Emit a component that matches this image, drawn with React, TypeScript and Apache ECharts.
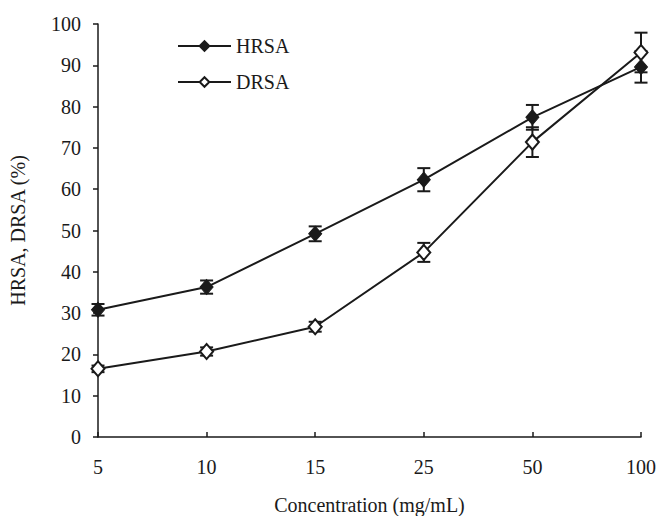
import React, { useEffect, useRef } from "react";
import * as echarts from "echarts";

const categories = ["5", "10", "15", "25", "50", "100"];
const hrsa = [30.8, 36.3, 49.2, 62.3, 77.4, 89.6];
const hrsaErr = [1.4, 1.6, 1.8, 2.8, 3.0, 3.8];
const drsa = [16.5, 20.7, 26.7, 44.7, 71.4, 93.1];
const drsaErr = [0.8, 1.0, 1.2, 2.3, 3.6, 4.8];
const yTicks = [0, 100, 10];

const FONT = "'Liberation Serif', 'DejaVu Serif', serif";

function errorSeries(vals: number[], errs: number[], name: string) {
  return {
    type: "custom",
    name: name + "-err",
    z: 1,
    silent: true,
    data: vals.map((v, i) => [i, v - errs[i], v + errs[i]]),
    renderItem: (params: any, api: any) => {
      const x = api.value(0);
      const lo = api.coord([x, api.value(1)]);
      const hi = api.coord([x, api.value(2)]);
      const w = 6.5;
      const st = { stroke: "#1a1a1a", lineWidth: 2 };
      return {
        type: "group",
        children: [
          { type: "line", shape: { x1: lo[0], y1: lo[1], x2: hi[0], y2: hi[1] }, style: st },
          { type: "line", shape: { x1: lo[0] - w, y1: lo[1], x2: lo[0] + w, y2: lo[1] }, style: st },
          { type: "line", shape: { x1: hi[0] - w, y1: hi[1], x2: hi[0] + w, y2: hi[1] }, style: st },
        ],
      };
    },
  };
}

export default function App() {
  const ref = useRef<HTMLDivElement>(null);
  useEffect(() => {
    const chart = echarts.init(ref.current!, null, { renderer: "svg" });
    chart.setOption({
      animation: false,
      backgroundColor: "#fff",
      textStyle: { fontFamily: FONT },
      grid: { left: 98, right: 16, top: 24, bottom: 79, outerBoundsMode: "none", containLabel: false },
      legend: {
        left: 172,
        top: 31,
        orient: "vertical",
        itemWidth: 53,
        itemHeight: 12,
        itemGap: 16,
        data: ["HRSA", "DRSA"],
        textStyle: { fontFamily: FONT, fontSize: 20, color: "#1a1a1a", lineHeight: 20 },
      },
      xAxis: {
        type: "category",
        data: categories,
        boundaryGap: false,
        name: "Concentration (mg/mL)",
        nameLocation: "middle",
        nameGap: 58,
        nameTextStyle: { fontFamily: FONT, fontSize: 20, color: "#1a1a1a" },
        axisLine: { lineStyle: { color: "#1a1a1a", width: 1.5 } },
        axisTick: { inside: true, length: 5, alignWithLabel: true, lineStyle: { color: "#1a1a1a", width: 1.5 } },
        axisLabel: { fontFamily: FONT, fontSize: 20, color: "#1a1a1a", margin: 20 },
        splitLine: { show: false },
      },
      yAxis: {
        type: "value",
        min: yTicks[0],
        max: yTicks[1],
        interval: yTicks[2],
        name: "HRSA, DRSA (%)",
        nameLocation: "middle",
        nameGap: 70,
        nameTextStyle: { fontFamily: FONT, fontSize: 20, color: "#1a1a1a" },
        axisLine: { show: true, lineStyle: { color: "#1a1a1a", width: 1.5 } },
        axisTick: { show: true, length: 5, lineStyle: { color: "#1a1a1a", width: 1.5 } },
        axisLabel: { fontFamily: FONT, fontSize: 20, color: "#1a1a1a", margin: 17 },
        splitLine: { show: false },
      },
      series: [
        errorSeries(hrsa, hrsaErr, "HRSA"),
        errorSeries(drsa, drsaErr, "DRSA"),
        {
          type: "line",
          name: "HRSA",
          data: hrsa,
          z: 3,
          symbol: "diamond",
          symbolSize: [13, 15],
          lineStyle: { color: "#1a1a1a", width: 2 },
          itemStyle: { color: "#1a1a1a", borderColor: "#1a1a1a", borderWidth: 1 },
        },
        {
          type: "line",
          name: "DRSA",
          data: drsa,
          z: 3,
          symbol: "diamond",
          symbolSize: [13, 15],
          lineStyle: { color: "#1a1a1a", width: 2 },
          itemStyle: { color: "#ffffff", borderColor: "#1a1a1a", borderWidth: 2 },
        },
      ],
    });
    return () => chart.dispose();
  }, []);
  return <div ref={ref} style={{ width: 657, height: 516, position: "absolute", left: 0, top: 0 }} />;
}
